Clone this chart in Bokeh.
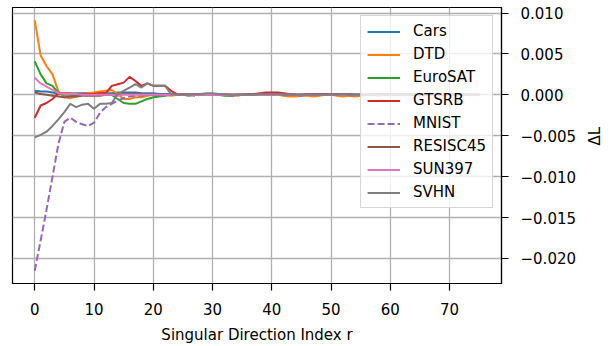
import math
from bokeh.plotting import figure
from bokeh.models import Range1d, FixedTicker, CustomJSTickFormatter, Legend, LegendItem
from bokeh.embed import file_html
from bokeh.resources import INLINE

x_index = list(range(76))

cars = [
    0.0005, 0.0004, 0.0004, 0.0003, 0.0001, 0.0001, 0.0001, 0.0002, 0.0002, 0.0002,
    0.0002, 0.0002, 0.0002, 0.0002, 0.0003, 0.0003, 0.0003, 0.0003, 0.0002, 0.0002,
    0.0002, 0.0001, 0.0001, 0.0001, 0.0000, 0.0001, 0.0001, 0.0000, 0.0000, 0.0001,
    0.0001, 0.0000, 0.0000, -0.0001, 0.0000, 0.0000, 0.0001, 0.0001, 0.0001, 0.0001,
    0.0000, 0.0000, 0.0000, 0.0001, 0.0000, 0.0000, 0.0000, -0.0001, 0.0000, 0.0000,
    0.0000, 0.0001, 0.0000, 0.0000, 0.0000, 0.0000, 0.0001, 0.0000, 0.0000, 0.0000,
    0.0000, 0.0000, 0.0000, 0.0000, 0.0001, 0.0000, 0.0000, 0.0000, 0.0000, 0.0000,
    0.0000, 0.0000, 0.0000, 0.0000, 0.0000, 0.0000,
]
dtd = [
    0.0091, 0.0048, 0.0035, 0.0025, 0.0004, -0.0003, -0.0004, -0.0002, 0.0000, 0.0002,
    0.0003, 0.0004, 0.0005, 0.0006, 0.0001, -0.0005, -0.0005, -0.0003, -0.0003, -0.0001,
    0.0000, -0.0001, 0.0000, -0.0001, 0.0000, 0.0000, 0.0001, 0.0000, 0.0000, 0.0001,
    0.0001, 0.0000, 0.0000, 0.0000, -0.0001, 0.0000, 0.0000, 0.0000, 0.0000, 0.0001,
    0.0000, 0.0000, -0.0001, -0.0002, -0.0002, -0.0001, -0.0001, -0.0002, -0.0001, 0.0000,
    0.0000, -0.0001, -0.0002, -0.0001, -0.0002, -0.0001, 0.0000, 0.0000, -0.0001, 0.0000,
    0.0000, 0.0000, 0.0000, 0.0000, 0.0000, -0.0001, 0.0000, 0.0000, 0.0000, 0.0000,
    0.0000, 0.0000, 0.0000, 0.0000, 0.0000, 0.0000,
]
eurosat = [
    0.0041, 0.0025, 0.0014, 0.0011, 0.0002, 0.0000, 0.0000, -0.0001, 0.0000, 0.0000,
    0.0000, 0.0001, 0.0001, 0.0000, -0.0005, -0.0010, -0.0011, -0.0011, -0.0008, -0.0005,
    -0.0003, -0.0002, -0.0001, 0.0000, 0.0000, 0.0000, -0.0001, 0.0000, 0.0000, 0.0000,
    0.0000, 0.0000, -0.0001, -0.0001, 0.0000, 0.0000, 0.0000, 0.0000, 0.0000, 0.0000,
    0.0000, 0.0000, 0.0000, 0.0000, 0.0000, 0.0000, 0.0000, 0.0000, 0.0000, 0.0001,
    0.0001, 0.0000, 0.0000, 0.0000, 0.0000, 0.0000, 0.0000, 0.0001, 0.0001, 0.0001,
    0.0001, 0.0000, 0.0000, 0.0000, 0.0000, 0.0000, 0.0000, 0.0000, 0.0000, 0.0000,
    0.0000, 0.0000, 0.0000, 0.0000, 0.0000, 0.0000,
]
gtsrb = [
    -0.0028, -0.0013, -0.0010, -0.0005, 0.0002, 0.0002, 0.0002, 0.0001, 0.0001, 0.0001,
    0.0001, 0.0002, 0.0002, 0.0011, 0.0013, 0.0015, 0.0022, 0.0017, 0.0011, 0.0014,
    0.0011, 0.0011, 0.0011, 0.0005, 0.0001, 0.0000, 0.0000, 0.0000, 0.0001, 0.0001,
    0.0001, 0.0000, 0.0000, 0.0000, 0.0000, 0.0000, 0.0000, 0.0001, 0.0002, 0.0003,
    0.0003, 0.0003, 0.0002, 0.0001, 0.0000, 0.0000, 0.0001, 0.0001, 0.0001, 0.0001,
    0.0000, 0.0001, 0.0001, 0.0001, 0.0000, 0.0000, 0.0001, 0.0001, 0.0000, 0.0000,
    0.0000, 0.0000, 0.0000, 0.0001, 0.0000, 0.0000, 0.0000, 0.0000, 0.0000, 0.0000,
    0.0000, 0.0000, 0.0000, 0.0000, 0.0000, 0.0000,
]
mnist = [
    -0.0215, -0.0178, -0.0140, -0.0100, -0.0060, -0.0033, -0.0028, -0.0033, -0.0036, -0.0038,
    -0.0034, -0.0022, -0.0015, -0.0011, -0.0007, -0.0004, -0.0002, -0.0001, -0.0001, 0.0000,
    0.0000, -0.0001, 0.0000, 0.0000, 0.0000, 0.0000, 0.0000, -0.0001, 0.0000, 0.0000,
    0.0000, 0.0000, 0.0000, -0.0001, -0.0001, 0.0000, 0.0000, 0.0000, 0.0000, 0.0000,
    0.0000, 0.0000, 0.0000, 0.0000, 0.0000, -0.0001, 0.0000, 0.0000, 0.0000, 0.0000,
    0.0000, 0.0000, 0.0000, 0.0000, -0.0001, 0.0000, 0.0000, 0.0000, 0.0000, 0.0000,
    0.0000, 0.0000, 0.0000, 0.0000, 0.0000, 0.0000, 0.0000, 0.0000, 0.0000, 0.0000,
    0.0000, 0.0000, 0.0000, 0.0000, 0.0000, 0.0000,
]
resisc45 = [
    0.0003, 0.0001, 0.0000, -0.0001, -0.0002, -0.0003, -0.0002, -0.0002, -0.0001, -0.0001,
    -0.0001, -0.0001, 0.0000, 0.0000, 0.0000, 0.0001, 0.0001, 0.0001, 0.0001, 0.0000,
    0.0000, 0.0000, 0.0000, 0.0000, 0.0000, 0.0000, 0.0000, 0.0000, 0.0000, 0.0001,
    0.0001, 0.0000, 0.0000, 0.0000, 0.0000, 0.0000, 0.0000, 0.0000, 0.0001, 0.0000,
    0.0000, 0.0001, 0.0000, 0.0000, 0.0000, 0.0000, 0.0000, 0.0000, 0.0000, 0.0000,
    0.0000, 0.0000, 0.0000, 0.0000, 0.0000, 0.0000, 0.0000, 0.0000, 0.0000, 0.0000,
    0.0000, 0.0000, 0.0000, 0.0000, 0.0000, 0.0000, 0.0000, 0.0000, 0.0000, 0.0000,
    0.0000, 0.0000, 0.0000, 0.0000, 0.0000, 0.0000,
]
sun397 = [
    0.0021, 0.0014, 0.0010, 0.0006, 0.0002, 0.0001, 0.0001, 0.0001, 0.0000, 0.0000,
    0.0000, 0.0000, 0.0000, 0.0000, -0.0001, 0.0000, 0.0000, 0.0000, 0.0000, 0.0000,
    0.0000, 0.0000, 0.0000, 0.0000, 0.0000, 0.0000, 0.0000, 0.0000, 0.0000, 0.0000,
    0.0000, 0.0000, 0.0000, 0.0000, 0.0000, 0.0000, 0.0000, 0.0000, 0.0000, 0.0000,
    0.0000, 0.0000, 0.0000, 0.0000, 0.0000, 0.0000, 0.0000, 0.0000, 0.0000, 0.0000,
    0.0000, 0.0000, 0.0000, 0.0000, 0.0000, 0.0000, 0.0001, 0.0000, 0.0000, 0.0000,
    0.0000, 0.0000, 0.0000, 0.0000, 0.0000, 0.0000, 0.0000, 0.0000, 0.0000, 0.0000,
    0.0000, 0.0000, 0.0000, 0.0000, 0.0000, 0.0000,
]
svhn = [
    -0.0052, -0.0049, -0.0045, -0.0038, -0.0030, -0.0021, -0.0011, -0.0015, -0.0012, -0.0011,
    -0.0017, -0.0011, -0.0011, -0.0010, 0.0001, 0.0005, 0.0009, 0.0013, 0.0009, 0.0014,
    0.0011, 0.0011, 0.0011, 0.0001, 0.0000, 0.0000, 0.0000, 0.0001, 0.0001, 0.0002,
    0.0002, 0.0001, 0.0001, 0.0000, 0.0000, 0.0000, 0.0000, 0.0000, 0.0001, 0.0001,
    0.0001, 0.0001, 0.0000, 0.0000, 0.0000, 0.0000, 0.0000, 0.0000, 0.0000, 0.0000,
    0.0000, 0.0000, 0.0001, 0.0000, 0.0000, 0.0000, 0.0000, 0.0000, 0.0000, 0.0000,
    0.0000, 0.0000, 0.0000, 0.0000, 0.0000, 0.0000, 0.0000, 0.0000, 0.0000, 0.0000,
    0.0000, 0.0000, 0.0000, 0.0000, 0.0000, 0.0000,
]

series_names = ["Cars", "DTD", "EuroSAT", "GTSRB", "MNIST", "RESISC45", "SUN397", "SVHN"]
series_values = [cars, dtd, eurosat, gtsrb, mnist, resisc45, sun397, svhn]
series_colors = ["#1f77b4", "#ff7f0e", "#2ca02c", "#d62728", "#9467bd", "#8c564b", "#e377c2", "#7f7f7f"]
series_dash = ["solid", "solid", "solid", "solid", "7 3", "solid", "solid", "solid"]

x_ticks = [0, 10, 20, 30, 40, 50, 60, 70]
y_ticks = [-0.020, -0.015, -0.010, -0.005, 0.0, 0.005, 0.010]

FONT = "DejaVu Sans"

p = figure(
    frame_width=489, frame_height=276,
    x_range=Range1d(-3.75, 78.75), y_range=Range1d(-0.02306, 0.01068),
    y_axis_location="right",
    output_backend="svg", toolbar_location=None,
    min_border_left=12, min_border_top=7, min_border_right=108, min_border_bottom=58,
)
p.background_fill_color = "white"
p.border_fill_color = "white"
p.outline_line_color = "black"
p.outline_line_width = 1.2

for g in (p.xgrid, p.ygrid):
    g.grid_line_color = "#b0b0b0"
    g.grid_line_width = 1.3

p.xaxis.ticker = FixedTicker(ticks=x_ticks)
p.yaxis.ticker = FixedTicker(ticks=y_ticks)
p.yaxis.formatter = CustomJSTickFormatter(code="""
    const v = Math.abs(tick) < 1e-12 ? 0 : tick;
    return v.toFixed(3).replace('-', '\u2212');
""")

for ax in (p.xaxis, p.yaxis):
    ax.axis_line_color = "black"
    ax.axis_line_width = 1.2
    ax.major_tick_line_color = "black"
    ax.major_tick_line_width = 1.2
    ax.major_tick_out = 7
    ax.major_tick_in = 0
    ax.minor_tick_line_color = None
    ax.major_label_text_font = FONT
    ax.major_label_text_font_size = "15px"
    ax.major_label_text_color = "black"
    ax.axis_label_text_font = FONT
    ax.axis_label_text_font_size = "15px"
    ax.axis_label_text_font_style = "normal"
    ax.axis_label_text_color = "black"

p.xaxis.axis_label = "Singular Direction Index r"
p.yaxis.axis_label = "ΔL"
p.yaxis.axis_label_orientation = math.pi / 2
p.xaxis.major_label_standoff = 12
p.yaxis.major_label_standoff = 12
p.xaxis.axis_label_standoff = 8
p.yaxis.axis_label_standoff = 16

items = []
for name, vals, col, dash in zip(series_names, series_values, series_colors, series_dash):
    r = p.line(x_index, vals, line_color=col, line_width=2, line_dash=dash)
    items.append(LegendItem(label=name, renderers=[r]))

legend = Legend(items=items, location="top_right")
legend.margin = 8
legend.padding = 6
legend.spacing = 5
legend.glyph_width = 33
legend.glyph_height = 17
legend.label_height = 17
legend.label_standoff = 13
legend.label_text_font = FONT
legend.label_text_font_size = "15px"
legend.label_text_color = "black"
legend.background_fill_color = "white"
legend.background_fill_alpha = 0.8
legend.border_line_color = "#cccccc"
legend.border_line_width = 1
legend.border_line_alpha = 0.8
p.add_layout(legend, "center")

open("out.html", "w").write(file_html(p, INLINE))
